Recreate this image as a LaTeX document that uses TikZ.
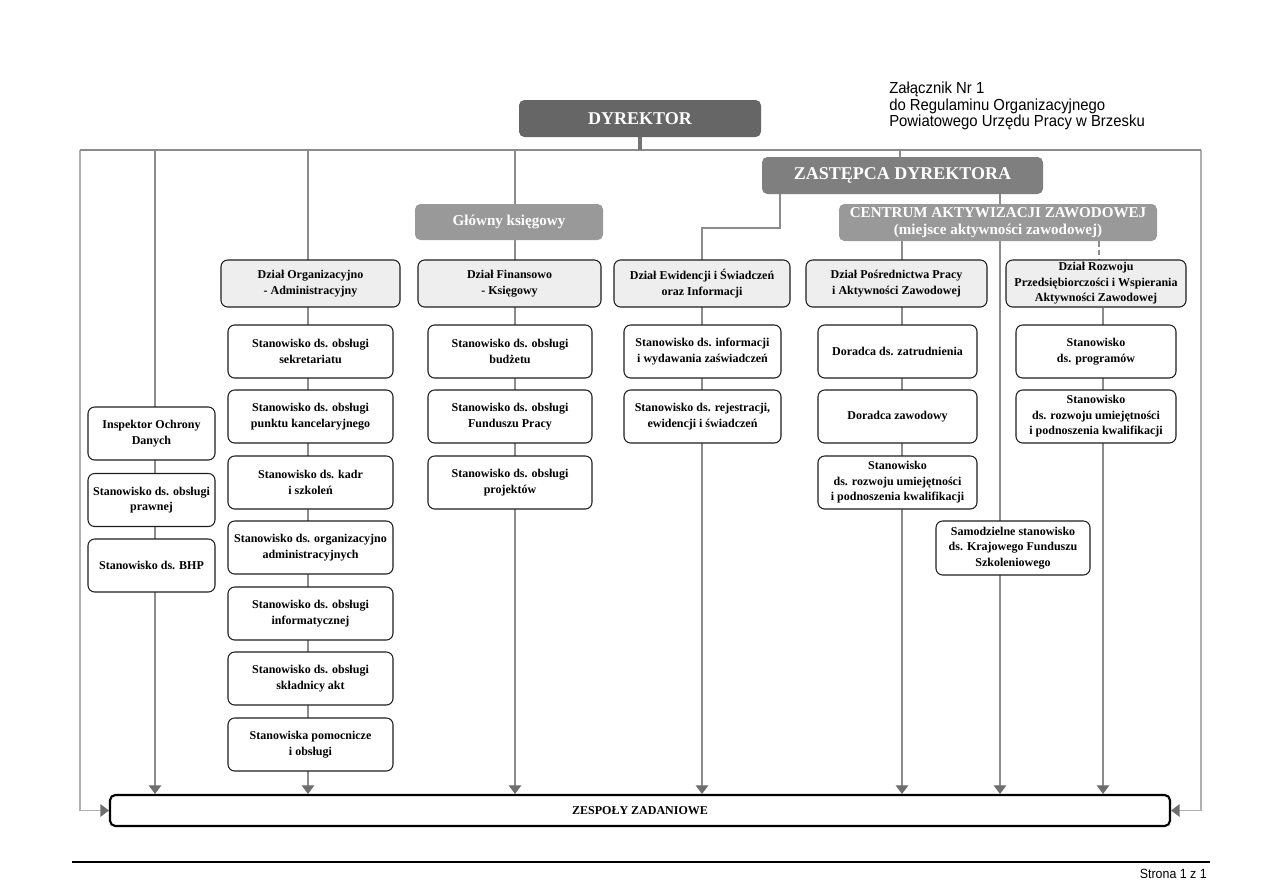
\documentclass[tikz,border=0pt]{standalone}
\usepackage{fontspec}
\setmainfont{Liberation Serif}
\newfontfamily\annotfont[FakeStretch=0.93]{Liberation Sans}
\usetikzlibrary{arrows.meta,backgrounds}
\definecolor{dyrfill}{RGB}{102,102,102}
\definecolor{zastfill}{RGB}{127,127,127}
\definecolor{lightfill}{RGB}{153,153,153}
\definecolor{dzialfill}{RGB}{238,238,238}
\definecolor{linegray}{RGB}{140,140,140}
\definecolor{outergray}{RGB}{175,175,175}
\definecolor{arrgray}{RGB}{110,110,110}
\definecolor{stubgray}{RGB}{115,115,115}
\definecolor{boxborder}{RGB}{30,30,30}
\begin{document}
\begin{tikzpicture}[x=0.75pt,y=-0.75pt,
  sz/.style 2 args={minimum width=#1*0.75pt, minimum height=#2*0.75pt},
  base/.style={inner sep=0pt, align=center, font=\bfseries\fontsize{9}{11.6}\selectfont},
  head/.style={base, rounded corners=4pt, text=white},
  dyrbox/.style={head, fill=dyrfill, font=\bfseries\fontsize{13.5}{15}\selectfont},
  zastbox/.style={head, fill=zastfill, font=\bfseries\fontsize{13.5}{15}\selectfont},
  lightbox/.style={head, fill=lightfill, font=\bfseries\fontsize{11.3}{13}\selectfont},
  dzialbox/.style={base, draw=boxborder, line width=0.8pt, fill=dzialfill, rounded corners=5pt},
  posbox/.style={base, draw=boxborder, line width=0.8pt, fill=white, rounded corners=5pt},
  zespbox/.style={base, draw=black, line width=1.6pt, fill=white, rounded corners=4pt, font=\bfseries\fontsize{9}{10.5}\selectfont},
  tip/.style={-{Triangle[length=6.5pt,width=9.5pt,color=arrgray]}},
  vline/.style={draw=linegray, line width=0.8pt},
  outer/.style={draw=outergray, line width=1.3pt},
  busline/.style={draw=linegray, line width=1.1pt},
  stub/.style={draw=stubgray, line width=3pt},
  dashline/.style={draw=linegray, line width=0.8pt, dash pattern=on 4pt off 2.5pt},
  annot/.style={inner sep=0pt, align=left, font=\annotfont\fontsize{12}{12.4}\selectfont}
]
\useasboundingbox (0,0) rectangle (1279,894);

% heads
\node[dyrbox, sz={242}{37}] (dyr) at (640,118.5) {DYREKTOR};
\node[zastbox, sz={281}{37}] (zast) at (902.5,175.5) {ZASTĘPCA DYREKTORA};
\node[lightbox, sz={188}{36}] (gk) at (509,222) {Główny księgowy};
\node[lightbox, sz={318}{37}] (cakz) at (998,222.5) {CENTRUM AKTYWIZACJI ZAWODOWEJ\\(miejsce aktywności zawodowej)};

% annotation
\node[annot, anchor=north west] (zal) at (889,82) {Załącznik Nr 1\\do Regulaminu Organizacyjnego\\Powiatowego Urzędu Pracy w Brzesku};

% departments
\node[dzialbox, sz={179}{47}] (doa) at (310.5,283.5) {Dział Organizacyjno\\- Administracyjny};
\node[dzialbox, sz={183}{47}] (dfk) at (509.5,283.5) {Dział Finansowo\\- Księgowy};
\node[dzialbox, sz={176}{47}] (dew) at (702,283.5) {Dział Ewidencji i Świadczeń\\oraz Informacji};
\node[dzialbox, sz={181}{47}] (dpp) at (896.5,283.5) {Dział Pośrednictwa Pracy\\i Aktywności Zawodowej};
\node[dzialbox, sz={180}{47}] (drw) at (1096,283.5) {Dział Rozwoju\\Przedsiębiorczości i Wspierania\\Aktywności Zawodowej};

% left column
\node[posbox, sz={127}{53}] (iod) at (151.5,433.5) {Inspektor Ochrony\\Danych};
\node[posbox, sz={127}{53}] (prw) at (151.5,500) {Stanowisko ds. obsługi\\prawnej};
\node[posbox, sz={127}{53}] (bhp) at (151.5,565.5) {Stanowisko ds. BHP};

% column 1
\node[posbox, sz={165}{53}] (p11) at (310.5,351.5) {Stanowisko ds. obsługi\\sekretariatu};
\node[posbox, sz={165}{53}] (p12) at (310.5,416.5) {Stanowisko ds. obsługi\\punktu kancelaryjnego};
\node[posbox, sz={165}{53}] (p13) at (310.5,482.5) {Stanowisko ds. kadr\\i szkoleń};
\node[posbox, sz={165}{53}] (p14) at (310.5,547.5) {Stanowisko ds. organizacyjno\\administracyjnych};
\node[posbox, sz={165}{53}] (p15) at (310.5,613.5) {Stanowisko ds. obsługi\\informatycznej};
\node[posbox, sz={165}{53}] (p16) at (310.5,678.5) {Stanowisko ds. obsługi\\składnicy akt};
\node[posbox, sz={165}{53}] (p17) at (310.5,744.5) {Stanowiska pomocnicze\\i obsługi};

% column 2
\node[posbox, sz={164}{53}] (p21) at (510,351.5) {Stanowisko ds. obsługi\\budżetu};
\node[posbox, sz={164}{53}] (p22) at (510,416.5) {Stanowisko ds. obsługi\\Funduszu Pracy};
\node[posbox, sz={164}{53}] (p23) at (510,482.5) {Stanowisko ds. obsługi\\projektów};

% column 3
\node[posbox, sz={157}{53}] (p31) at (702.5,351.5) {Stanowisko ds. informacji\\i wydawania zaświadczeń};
\node[posbox, sz={157}{53}] (p32) at (702.5,416.5) {Stanowisko ds. rejestracji,\\ewidencji i świadczeń};

% column 4
\node[posbox, sz={159}{53}] (p41) at (897.5,351.5) {Doradca ds. zatrudnienia};
\node[posbox, sz={159}{53}] (p42) at (897.5,416.5) {Doradca zawodowy};
\node[posbox, sz={159}{53}] (p43) at (897.5,482.5) {Stanowisko\\ds. rozwoju umiejętności\\i podnoszenia kwalifikacji};
\node[posbox, sz={154}{54}] (kfs) at (1013,548) {Samodzielne stanowisko\\ds. Krajowego Funduszu\\Szkoleniowego};

% column 5
\node[posbox, sz={160}{53}] (p51) at (1096,351.5) {Stanowisko\\ds. programów};
\node[posbox, sz={160}{53}] (p52) at (1096,416.5) {Stanowisko\\ds. rozwoju umiejętności\\i podnoszenia kwalifikacji};

% bottom
\node[zespbox, sz={1060}{31}] (zesp) at (640,810.5) {ZESPOŁY ZADANIOWE};

% footer
\coordinate (fl) at (72,862);
\coordinate (fr) at (1210,862);
\draw[black, line width=0.8pt] (fl) -- (fr);
\node[inner sep=0pt, anchor=base east, font=\annotfont\fontsize{10}{12}\selectfont] (page) at (1207,878) {Strona 1 z 1};

% connectors
\coordinate (busL) at (80,150);
\coordinate (busR) at (1201,150);
\coordinate (tA) at (155,150);
\coordinate (tB) at (308,150);
\coordinate (tC) at (515,150);
\coordinate (tZ) at (900,150);
\coordinate (e1) at (780,228);
\coordinate (e2) at (702,228);
\coordinate (xK) at (1000,0);
\coordinate (xP) at (902,0);
\coordinate (xR) at (1099,0);
\coordinate (xS) at (1103,0);

\begin{pgfonlayer}{background}
\fill[white] (0,0) rectangle (1279,894);
\draw[outer, tip] (busL) |- (zesp.west);
\draw[outer, tip] (busR) |- (zesp.east);
\draw[busline] (busL) -- (busR);
\draw[stub] (dyr.south) -- (dyr.south |- busL);
\draw[vline, tip] (tA) -- (tA |- zesp.north);
\draw[vline, tip] (tB) -- (tB |- zesp.north);
\draw[vline, tip] (tC) -- (tC |- zesp.north);
\draw[vline] (tZ) -- (tZ |- zast.north);
\draw[vline, tip] (e1 |- zast.south) -- (e1) -- (e2) -- (e2 |- zesp.north);
\draw[vline, tip] (xK |- zast.south) -- (xK |- zesp.north);
\draw[vline, tip] (xP |- cakz.south) -- (xP |- zesp.north);
\draw[dashline] (xR |- cakz.south) -- (xR |- drw.north);
\draw[vline, tip] (xS |- drw.south) -- (xS |- zesp.north);
\end{pgfonlayer}
\end{tikzpicture}
\end{document}
